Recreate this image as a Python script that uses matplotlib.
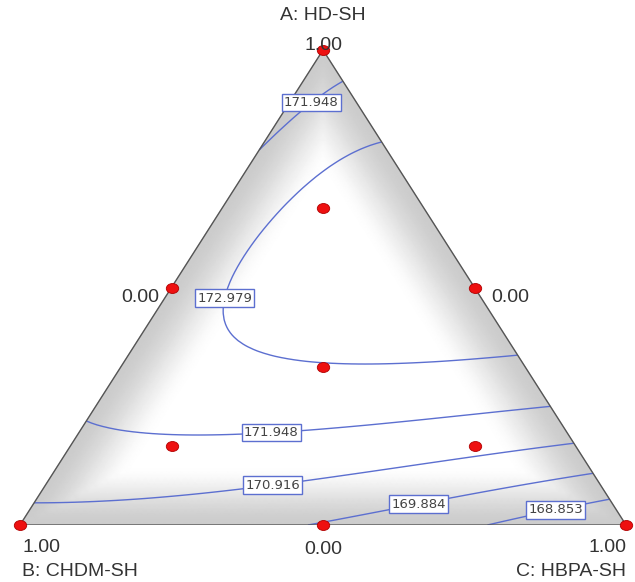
import numpy as np
import matplotlib
matplotlib.use('Agg')
import matplotlib.pyplot as plt
import matplotlib.tri as mtri
from matplotlib.path import Path
from matplotlib.transforms import Affine2D

# mixture model (A: HD-SH, B: CHDM-SH, C: HBPA-SH), coefficients
lin = [171.28, 170.52, 167.69]                 # A, B, C
quad = [6.20, 16.77, 2.85]                     # AB, AC, BC
cub = [-2.10, -2.34, -0.14]                    # AB(A-B), AC(A-C), BC(B-C)
abc = 4.72                                     # ABC
quart = [29.31, -7.44, -17.14]                 # A2BC, AB2C, ABC2

levels = [168.853, 169.884, 170.916, 171.948, 172.979]

# design points (A, B, C)
pa = [1, 0, 0, 0.5, 0.5, 0, 1/3, 2/3, 1/6, 1/6]
pb = [0, 1, 0, 0.5, 0, 0.5, 1/3, 1/6, 2/3, 1/6]
pc = [0, 0, 1, 0, 0.5, 0.5, 1/3, 1/6, 1/6, 2/3]


def model(A, B, C):
    return (lin[0]*A + lin[1]*B + lin[2]*C
            + quad[0]*A*B + quad[1]*A*C + quad[2]*B*C
            + cub[0]*A*B*(A-B) + cub[1]*A*C*(A-C) + cub[2]*B*C*(B-C)
            + abc*A*B*C
            + quart[0]*A*A*B*C + quart[1]*A*B*B*C + quart[2]*A*B*C*C)


n = 90
ii, jj = np.meshgrid(np.arange(n + 1), np.arange(n + 1))
m = ii + jj <= n
A = ii[m] / n
C = jj[m] / n
B = 1 - A - C
tri = mtri.Triangulation(C + A / 2, A)
z = model(A, B, C)

# light grey shading towards the edges
dmin = np.minimum(np.minimum(A, B), C)
t = np.clip(dmin / 0.13, 0, 1)
shade = 0.80 + 0.20 * (t * t * (3 - 2 * t))

fig = plt.figure(figsize=(6.35, 5.82), dpi=100)
ax = fig.add_axes([20 / 635, 57 / 582, 606 / 635, 475 / 582])
ax.set_xlim(0, 1)
ax.set_ylim(0, 1)
ax.axis('off')

ax.tripcolor(tri, shade, cmap='gray', vmin=0, vmax=1, shading='gouraud')
cs = ax.tricontour(tri, z, levels=levels, colors='#5c6fd0', linewidths=1.0)
ax.plot([0, 1, 0.5, 0], [0, 0, 1, 0], color='#555555', lw=1.0)


def px(x, y):
    return ((x - 20) / 606, (525 - y) / 475)


lab_pos = [px(310, 101), px(220, 297), px(271, 425), px(271, 470), px(416, 491), px(553, 497)]
labs = ax.clabel(cs, inline=False, fmt='%.3f', fontsize=9.5, colors='#444444', manual=lab_pos)
for tx in labs:
    tx.set_bbox(dict(facecolor='white', edgecolor='#5c6fd0', pad=1.5, lw=1.0))
    tx.set_zorder(5)
    tx.set_rotation(0)

ell = Path.unit_circle().transformed(Affine2D().scale(1.25, 1.0))
ax.scatter(np.array(pc) + np.array(pa) / 2, pa, marker=ell, s=80, color='#ee1010',
           edgecolors='#b00000', linewidths=0.6, zorder=6, clip_on=False)

tk = dict(fontsize=14, family='Liberation Sans', color='#333333')
fig.text(323 / 635, 1 - 16 / 582, 'A: HD-SH', ha='center', va='center', **tk)
fig.text(323 / 635, 1 - 45 / 582, '1.00', ha='center', va='center', **tk)
fig.text(140 / 635, 1 - 297 / 582, '0.00', ha='center', va='center', **tk)
fig.text(510 / 635, 1 - 297 / 582, '0.00', ha='center', va='center', **tk)
fig.text(323 / 635, 1 - 550 / 582, '0.00', ha='center', va='center', **tk)
fig.text(22 / 635, 1 - 547 / 582, '1.00', ha='left', va='center', **tk)
fig.text(22 / 635, 1 - 572 / 582, 'B: CHDM-SH', ha='left', va='center', **tk)
fig.text(626 / 635, 1 - 547 / 582, '1.00', ha='right', va='center', **tk)
fig.text(626 / 635, 1 - 572 / 582, 'C: HBPA-SH', ha='right', va='center', **tk)

fig.savefig('out.png')
